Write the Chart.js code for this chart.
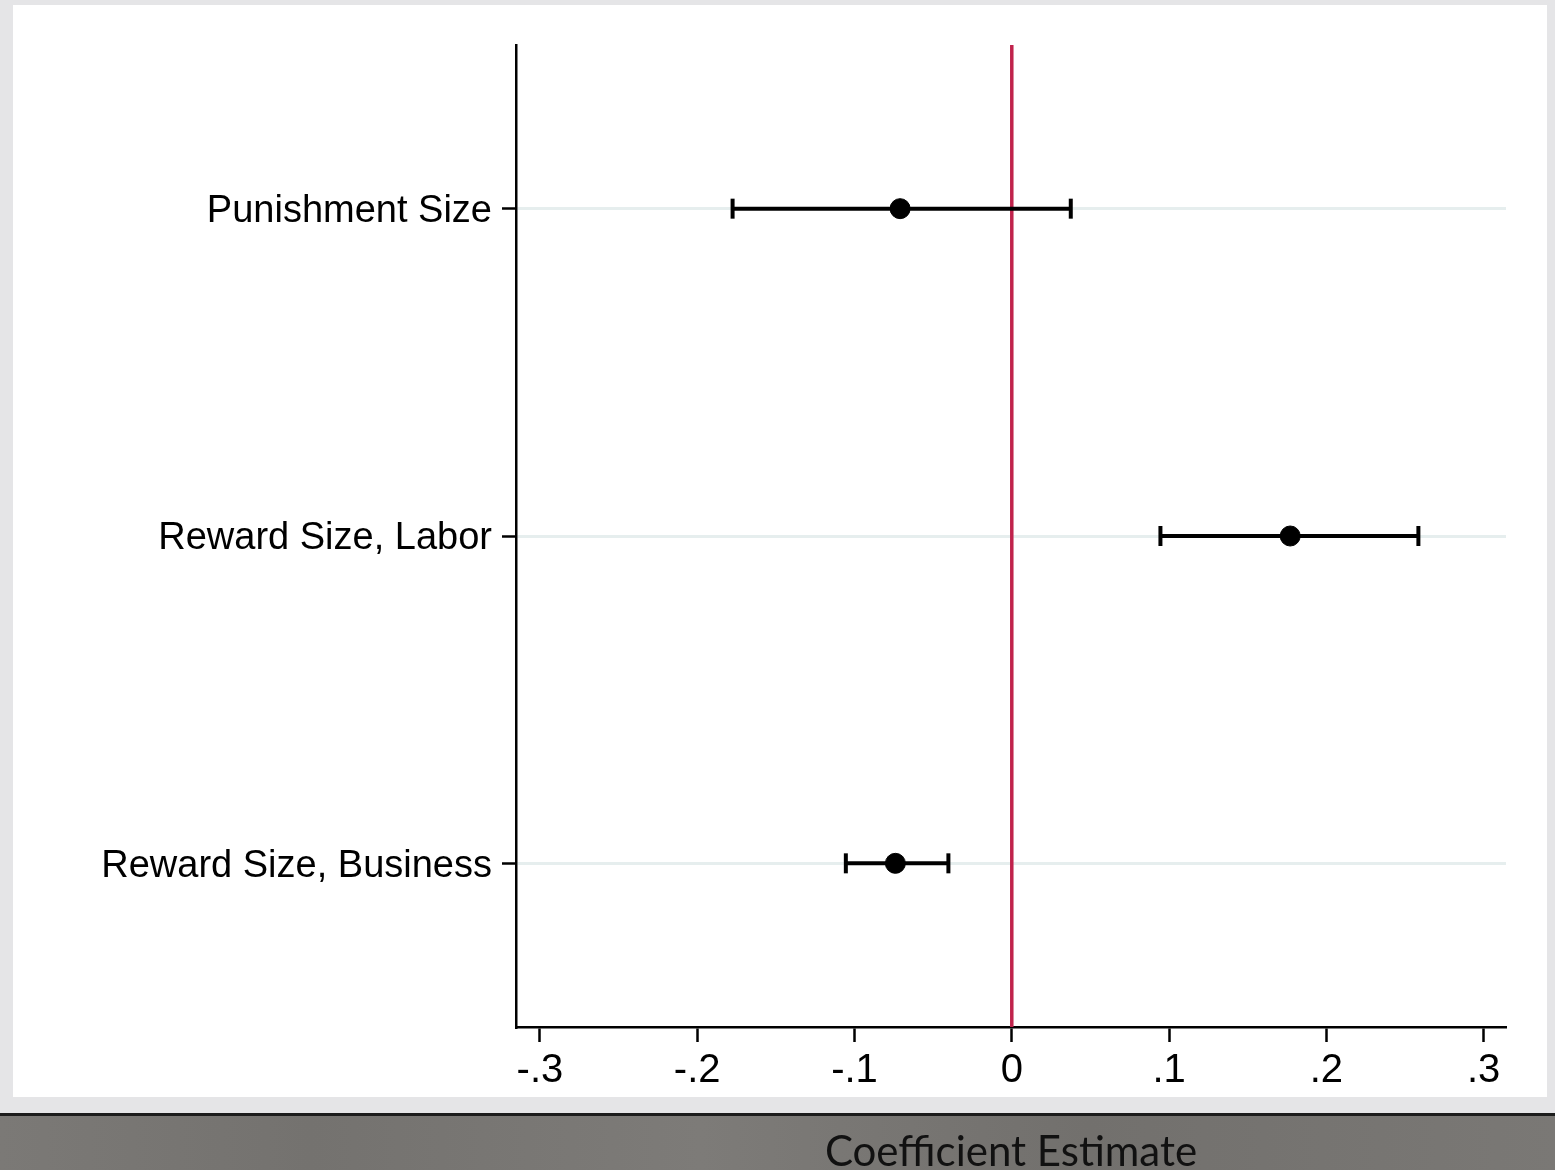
<!DOCTYPE html>
<html>
<head>
<meta charset="utf-8">
<title>Coefficient Estimate</title>
<script src="https://cdn.jsdelivr.net/npm/chart.js@4/dist/chart.umd.min.js"></script>
<style>
  html, body { margin: 0; padding: 0; }
  body { width: 1555px; height: 1170px; position: relative; overflow: hidden; background: #e5e5e7; }
  #panel { position: absolute; left: 13px; top: 5px; width: 1534px; height: 1092px; background: #fff; }
  #band { position: absolute; left: 0; top: 1113px; width: 1555px; height: 57px;
          border-top: 3px solid #1c1c1c;
          background: linear-gradient(90deg, #7b7976 0%, #74726f 20%, #7d7b78 45%, #72706d 70%, #7a7875 100%); }
  #myChart { position: absolute; left: 0; top: 0; }
</style>
</head>
<body>
<div id="panel"></div>
<div id="band"></div>
<canvas id="myChart" width="1555" height="1170"></canvas>
<script>
const categories = ['Punishment Size', 'Reward Size, Labor', 'Reward Size, Business'];
const estimates = [-0.071, 0.177, -0.074];
const lowerCI = [-0.1775, 0.0945, -0.1055];
const upperCI = [0.0375, 0.2585, -0.0403];
const xTicks = [-0.3, -0.2, -0.1, 0, 0.1, 0.2, 0.3];
const xTickLabels = ['-.3', '-.2', '-.1', '0', '.1', '.2', '.3'];
const zeroLineY = [0.5, 3.5];

const ctx = document.getElementById('myChart').getContext('2d');

// one small line dataset per confidence interval, caps drawn as rotated 'line' points
const ciSets = categories.map((c, i) => ({
  label: c + ' CI',
  data: [{ x: lowerCI[i], y: i + 1 }, { x: upperCI[i], y: i + 1 }],
  showLine: true,
  borderColor: '#000',
  borderWidth: 4,
  pointStyle: 'line',
  pointRotation: 90,
  pointRadius: 10,
  pointBorderWidth: 4,
  pointBorderColor: '#000',
  order: 1
}));

new Chart(ctx, {
  type: 'scatter',
  data: {
    datasets: [
      {
        label: 'Estimate',
        data: estimates.map((v, i) => ({ x: v, y: i + 1 })),
        backgroundColor: '#000',
        borderColor: '#000',
        pointRadius: 10,
        order: 0
      },
      ...ciSets,
      {
        label: 'Zero',
        data: zeroLineY.map(y => ({ x: 0, y: y })),
        showLine: true,
        borderColor: '#c0234c',
        borderWidth: 3.5,
        pointRadius: 0,
        order: 2
      }
    ]
  },
  options: {
    responsive: false,
    animation: false,
    events: [],
    layout: { padding: { top: 45, right: 49, left: 0, bottom: 0 } },
    plugins: {
      legend: { display: false },
      tooltip: { enabled: false }
    },
    scales: {
      x: {
        type: 'linear',
        min: -0.3152,
        max: 0.3142,
        afterBuildTicks: (scale) => { scale.ticks = xTicks.map(v => ({ value: v })); },
        afterFit: (scale) => { scale.height = 143; },
        border: { color: '#000', width: 2.5 },
        grid: { drawOnChartArea: false, drawTicks: true, tickLength: 15, tickColor: '#000', tickWidth: 2.5 },
        ticks: {
          padding: 5,
          color: '#000',
          font: { family: 'Liberation Sans, Arial, sans-serif', size: 40 },
          callback: (v) => xTickLabels[xTicks.indexOf(v)]
        },
        title: {
          display: true,
          text: 'Coefficient Estimate',
          color: '#111',
          font: { family: 'Lato, sans-serif', size: 42, lineHeight: 1 },
          padding: { top: 0, bottom: -3 }
        }
      },
      y: {
        type: 'linear',
        reverse: true,
        min: 0.5,
        max: 3.5,
        afterBuildTicks: (scale) => { scale.ticks = categories.map((c, i) => ({ value: i + 1 })); },
        afterFit: (scale) => { scale.width = 516; },
        border: { color: '#000', width: 2.5 },
        grid: { color: '#e6eeee', lineWidth: 3, drawTicks: true, tickLength: 14, tickColor: '#000', tickWidth: 2.5 },
        ticks: {
          padding: 10,
          labelOffset: 3,
          color: '#000',
          font: { family: 'Liberation Sans, Arial, sans-serif', size: 38 },
          callback: (v) => categories[v - 1]
        }
      }
    }
  }
});
</script>
</body>
</html>
